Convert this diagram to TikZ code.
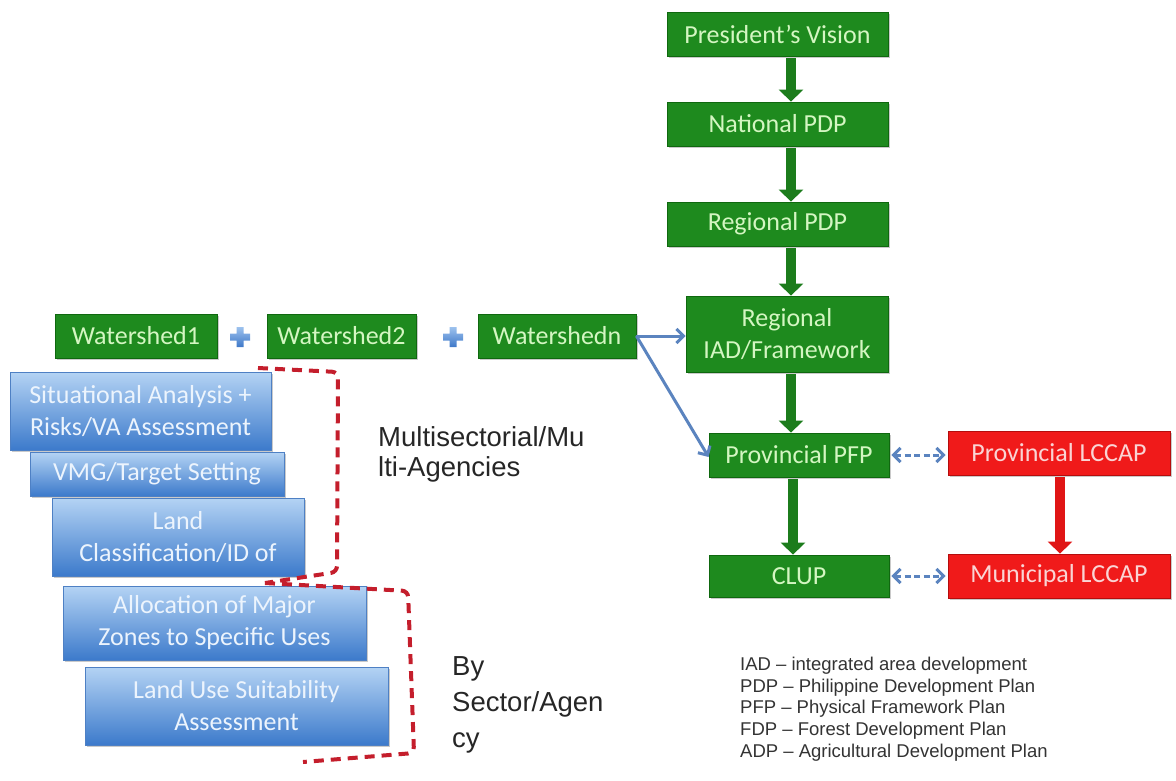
\documentclass[tikz,border=0pt]{standalone}
\usepackage{fontspec}
\setmainfont{Carlito}
\newfontfamily\notefont{Liberation Sans}
\usetikzlibrary{arrows.meta,shadows}

\definecolor{gfill}{HTML}{1E8A1E}
\definecolor{gedge}{HTML}{0F680F}
\definecolor{gtext}{HTML}{D4F6C2}
\definecolor{rfill}{HTML}{F01A1A}
\definecolor{redge}{HTML}{B40D0D}
\definecolor{rtext}{HTML}{FAD4D4}
\definecolor{btop}{HTML}{B4D3F4}
\definecolor{bmid}{HTML}{74A6E2}
\definecolor{bbot}{HTML}{3C7ACB}
\definecolor{bedge}{HTML}{4E80C4}
\definecolor{btext}{HTML}{ECF4FD}
\definecolor{linkblue}{HTML}{5B84BF}
\definecolor{garrow}{HTML}{1C7C1C}
\definecolor{rarrow}{HTML}{E01515}
\definecolor{bracketred}{HTML}{C41E2C}
\definecolor{plustop}{HTML}{9DC2EE}
\definecolor{plusbot}{HTML}{3E78C8}
\definecolor{notegrey}{HTML}{333333}

\tikzset{
  boxshadow/.style={drop shadow={shadow xshift=2pt,shadow yshift=-2pt,opacity=.35,fill=black!60}},
  gbox/.style={boxshadow,fill=gfill,draw=gedge,line width=.8pt,text=gtext,
    font=\fontsize{26}{32}\selectfont,inner sep=0pt,minimum height=44pt,align=center},
  rbox/.style={boxshadow,fill=rfill,draw=redge,line width=.8pt,text=rtext,
    font=\fontsize{26}{32}\selectfont,inner sep=0pt,minimum height=44pt,align=center},
  bbox/.style={boxshadow,top color=btop,middle color=bmid,bottom color=bbot,draw=bedge,
    line width=.8pt,text=btext,font=\fontsize{26}{32}\selectfont,inner sep=0pt,align=center},
  garr/.style={draw=garrow,line width=10pt,-{Triangle[width=24pt,length=12pt]},shorten <=2pt},
  rarr/.style={draw=rarrow,line width=10pt,-{Triangle[width=24pt,length=12pt]},shorten <=2pt},
  barr/.style={draw=linkblue,line width=3pt,-{Straight Barb[width=14pt,length=7pt]}},
  dbarr/.style={draw=linkblue,line width=3pt,dash pattern=on 6pt off 3.5pt,
    {Straight Barb[width=14pt,length=7pt]}-{Straight Barb[width=14pt,length=7pt]},
    shorten <=2pt,shorten >=2pt},
  bracket/.style={draw=bracketred,line width=4pt,dash pattern=on 10pt off 7pt,rounded corners=6pt},
  sidetext/.style={font=\notefont\fontsize{27.5}{30}\selectfont,text=black!85,align=left,inner sep=0pt},
  notes/.style={font=\notefont\fontsize{18.5}{21.6}\selectfont,text=notegrey,align=left,inner sep=0pt}
}

\begin{document}
\begin{tikzpicture}[x=1pt,y=-1pt]
\useasboundingbox (0,0) rectangle (1176,780);

% planning hierarchy
\node[gbox,minimum width=221pt] (pv)   at (777.5,34)  {President’s Vision};
\node[gbox,minimum width=221pt] (npdp) at (777.5,124) {National PDP};
\node[gbox,minimum width=221pt] (rpdp) at (777.5,224) {Regional PDP};
\node[gbox,minimum width=202pt,minimum height=76pt] (riad) at (787,334) {Regional\\IAD/Framework};
\node[gbox,minimum width=180pt] (ppfp) at (799,455) {Provincial PFP};
\node[gbox,minimum width=180pt,minimum height=42pt] (clup) at (799,576) {CLUP};

% climate action plans
\node[rbox,minimum width=222pt] (plcc) at (1059,453) {Provincial LCCAP};
\node[rbox,minimum width=222pt] (mlcc) at (1059,576) {Municipal LCCAP};

% watersheds
\node[gbox,minimum width=162pt] (w1) at (136,336)   {Watershed1};
\node[gbox,minimum width=149pt] (w2) at (341.5,336) {Watershed2};
\node[gbox,minimum width=158pt] (wn) at (557,336)   {Watershedn};
\node[inner sep=0pt] (plus1) at (240,337) {};
\node[inner sep=0pt] (plus2) at (453,337) {};
\foreach \p in {plus1,plus2}
  \shade[top color=plustop,bottom color=plusbot,shift={(\p)}]
    (-10,-3.5) rectangle (10,3.5) (-3.5,-10) rectangle (3.5,10);

% analysis steps
\node[bbox,minimum width=303pt,minimum height=78pt] (lus)   at (236.5,706) {Land Use Suitability\\Assessment};
\node[bbox,minimum width=303pt,minimum height=74pt] (alloc) at (214.5,623) {Allocation of Major\\Zones to Specific Uses};
\node[bbox,minimum width=252pt,minimum height=78pt] (lc)    at (178,537)   {Land\\Classification/ID of};
\node[bbox,minimum width=254pt,minimum height=44pt] (vmg)   at (157,474)   {VMG/Target Setting};
\node[bbox,minimum width=261pt,minimum height=78pt] (sa)    at (140.5,411) {Situational Analysis +\\Risks/VA Assessment};

% groupings
\draw[bracket] (258,368) -- (338,372) -- (337,572) -- (265,583);
\draw[bracket] (265,583) -- (408,591) -- (414,753) -- (303,762);
\node[sidetext,anchor=north west] (multi) at (378,426) {Multisectorial/Mu\\lti-Agencies};
\node[sidetext,anchor=north west,font=\notefont\fontsize{27.5}{36}\selectfont] (bysec) at (452,656) {By\\Sector/Agen\\cy};

% flow
\coordinate (axis) at (791,0);
\draw[garr] (pv.south -| axis)   -- (npdp.north -| axis);
\draw[garr] (npdp.south -| axis) -- (rpdp.north -| axis);
\draw[garr] (rpdp.south -| axis) -- (riad.north -| axis);
\draw[garr] (riad.south -| axis) -- (ppfp.north -| axis);
\coordinate (axisb) at (793,0);
\draw[garr] (ppfp.south -| axisb) -- (clup.north -| axisb);
\coordinate (axisr) at (1060,0);
\draw[rarr] (plcc.south -| axisr) -- (mlcc.north -| axisr);

\draw[barr] (wn.east) -- (riad.west |- wn.east);
\draw[barr] (wn.east) -- ([yshift=-2pt]ppfp.west);
\draw[dbarr] (ppfp.east) -- (ppfp.east -| plcc.west);
\draw[dbarr] (clup.east) -- (clup.east -| mlcc.west);

% abbreviations
\node[notes,anchor=north west] (legend) at (740,657)
  {IAD – integrated area development\\
   PDP – Philippine Development Plan\\
   PFP – Physical Framework Plan\\
   FDP – Forest Development Plan\\
   ADP – Agricultural Development Plan};
\end{tikzpicture}
\end{document}
